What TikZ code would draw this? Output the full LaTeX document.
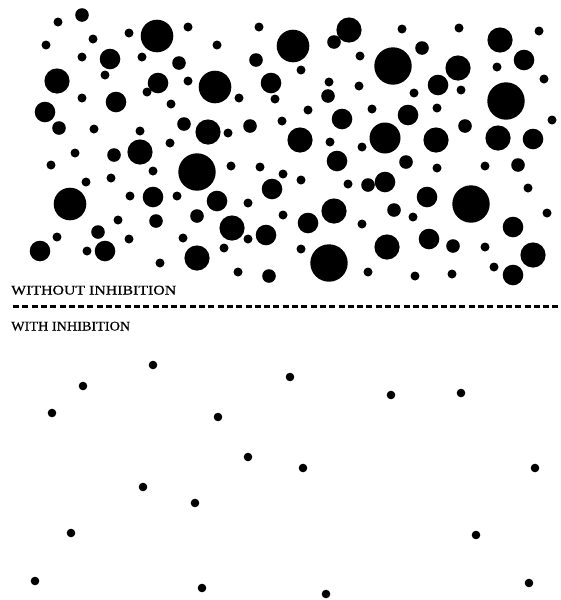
\documentclass[tikz,border=0pt]{standalone}
\usepackage{fontspec}
\usepackage{graphicx}
\newfontfamily\lab[FakeBold=0.6]{Liberation Serif}
\begin{document}
\begin{tikzpicture}[x=1pt,y=-1pt,
  dot/.style={fill=black},
  caption/.style={anchor=base west, inner sep=0pt}]
\useasboundingbox (0,0) rectangle (560,600);
% --- without inhibition ---
\foreach \x/\y in {58/22,46/45,93/39,82/57,129/33,188/27,142/57,105/75,147/92,188/81,82/98,171/104,94/129,140/131,170/143,
259/27,217/45,360/56,301/70,239/98,275/99,329/82,359/86,308/110,372/109,228/133,282/121,330/142,362/147,
402/29,459/28,539/31,497/67,544/79,414/93,461/90,437/108,552/120,
75/153,51/165,153/171,86/182,111/178,130/196,177/196,118/220,57/237,129/239,183/238,87/251,160/263,
231/166,260/167,283/174,301/180,348/184,248/203,283/215,362/224,248/239,224/248,301/249,238/272,368/272,
437/168,485/166,528/188,413/217,547/213,485/247,415/276,452/274,494/267}
  \fill[dot] (\x,\y) circle[radius=4.5pt];
\foreach \x/\y in {82/15,179/63,59/128,184/124,334/42,256/60,328/96,250/126,422/48,465/126,114/155,156/221,98/232,368/185,197/216,269/276,406/162,518/165,394/210,453/246}
  \fill[dot] (\x,\y) circle[radius=6.8pt];
\foreach \x/\y in {110/59,158/83,116/102,45/112,271/83,342/119,524/60,438/85,408/115,533/139,153/197,40/251,105/251,272/189,337/161,217/201,308/223,266/235,385/182,427/197,513/227,429/239,513/275}
  \fill[dot] (\x,\y) circle[radius=10.3pt];
\foreach \x/\y in {57/81,140/152,349/30,208/132,300/140,500/40,458/68,436/140,498/138,232/228,334/211,197/258,387/247,533/255}
  \fill[dot] (\x,\y) circle[radius=12.6pt];
\fill[dot] (385,138) circle[radius=15.5pt];
\foreach \x/\y in {157/36,293/46,215/87,70/204}
  \fill[dot] (\x,\y) circle[radius=16.3pt];
\foreach \x/\y in {393/66,506/101,197/172,329/263,471/204}
  \fill[dot] (\x,\y) circle[radius=18.7pt];
% --- labels and divider ---
\node[caption] (without) at (11,294.5) {\resizebox{165pt}{8.8pt}{\lab WITHOUT INHIBITION}};
\coordinate (divL) at (13,306);
\coordinate (divR) at (560,306);
\draw[line width=3pt, dash pattern=on 6pt off 3.3pt] (divL) -- (divR);
\node[caption] (with) at (11,330.5) {\resizebox{119pt}{8.8pt}{\lab WITH INHIBITION}};
% --- with inhibition ---
\foreach \x/\y in {153/365,83/386,52/413,218/417,248/457,143/487,195/503,71/533,35/581,202/588,
290/377,391/395,461/393,303/468,535/468,476/535,326/594,529/583}
  \fill[dot] (\x,\y) circle[radius=4.3pt];
\end{tikzpicture}
\end{document}
